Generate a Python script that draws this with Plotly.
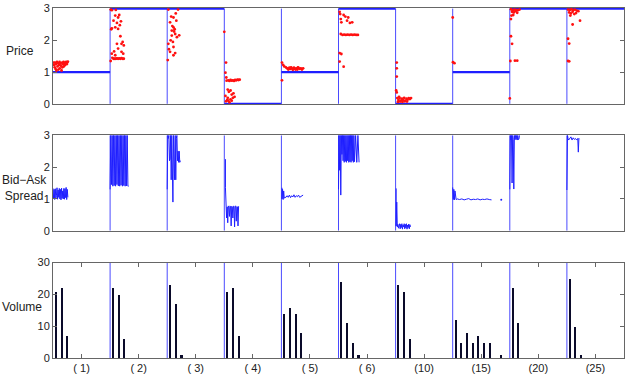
import plotly.graph_objects as go
from plotly.subplots import make_subplots

# ---------------- data ----------------
segment_labels = ["( 1)", "( 2)", "( 3)", "( 4)", "( 5)", "( 6)", "(10)", "(15)", "(20)", "(25)"]
price_levels = [1, 3, 3, 0, 1, 3, 0, 1, 3, 3]

# red price dots per segment: (time offset within segment, price)
dots_s1 = [(0.01,1.30),(0.02,1.22),(0.03,1.15),(0.035,1.30),(0.045,1.10),(0.05,1.25),(0.06,1.05),(0.07,1.32),(0.08,1.18),(0.09,1.28),
           (0.095,1.08),(0.105,1.22),(0.115,1.32),(0.12,1.12),(0.13,1.27),(0.14,1.20),(0.15,1.05),(0.16,1.30),(0.165,1.15),(0.175,1.25),
           (0.185,1.32),(0.19,1.18),(0.2,1.28),(0.21,1.22),(0.22,1.30),(0.23,1.32),(0.24,1.25),(0.25,1.30),(0.26,1.33)]
dots_s2 = [(0.01,2.97),(0.03,2.95),(0.10,2.96),(0.09,2.78),(0.14,2.72),(0.06,2.62),(0.12,2.55),(0.17,2.48),(0.09,2.41),(0.14,2.36),
           (0.03,2.38),(0.19,2.60),(0.18,2.13),(0.12,1.89),(0.20,1.89),(0.24,1.84),(0.14,1.74),(0.20,1.64),(0.03,1.58),(0.09,1.53),
           (0.23,1.58),(0.04,1.45),(0.06,1.42),(0.08,1.42),(0.10,1.42),(0.12,1.43),(0.14,1.42),(0.16,1.43),(0.18,1.42),(0.20,1.44),
           (0.22,1.42),(0.24,1.42),(0.01,1.35),(0.02,2.35),(0.16,2.80),(0.07,1.65),(0.22,1.95)]
dots_s3 = [(0.02,2.97),(0.19,2.97),(0.07,2.75),(0.11,2.72),(0.05,2.57),(0.11,2.41),(0.08,2.31),(0.14,2.20),(0.21,2.16),(0.02,1.89),
           (0.11,1.79),(0.05,1.64),(0.14,1.60),(0.01,1.38),(0.11,1.53),(0.17,2.10),(0.08,2.15),(0.09,2.45),(0.13,2.35),(0.06,2.00),
           (0.12,2.28),(0.16,2.62),(0.03,1.72),(0.10,1.95),(0.15,2.85)]
dots_s4 = [(0.00,2.27),(0.03,1.30),(0.02,0.98),(0.035,0.83),(0.04,0.73),(0.07,0.74),(0.09,0.72),(0.11,0.75),(0.13,0.73),(0.15,0.74),
           (0.17,0.72),(0.19,0.75),(0.21,0.74),(0.23,0.76),(0.25,0.75),(0.27,0.76),(0.06,0.45),(0.11,0.42),(0.08,0.38),(0.13,0.29),
           (0.16,0.33),(0.06,0.19),(0.11,0.14),(0.15,0.19),(0.03,0.08),(0.07,0.10),(0.13,0.10),(0.02,0.25),(0.05,0.12),(0.09,0.05),(0.18,0.22)]
dots_s5 = [(0.01,1.30),(0.01,0.74),(0.03,1.23),(0.05,1.18),(0.1,1.12),(0.12,1.08),(0.14,1.14),(0.16,1.10),(0.18,1.12),(0.2,1.07),
           (0.22,1.14),(0.24,1.10),(0.26,1.12),(0.28,1.08),(0.3,1.13),(0.32,1.10),(0.34,1.12),(0.36,1.08),(0.38,1.12),(0.13,1.10),
           (0.17,1.15),(0.21,1.10),(0.25,1.08),(0.29,1.15),(0.08,1.15)]
dots_s6 = [(0.02,2.90),(0.03,2.83),(0.09,2.80),(0.17,2.72),(0.04,2.67),(0.15,2.62),(0.24,2.57),(0.05,2.57),(0.20,2.55),(0.12,2.75),
           (0.04,2.20),(0.07,2.17),(0.10,2.18),(0.13,2.17),(0.16,2.18),(0.19,2.17),(0.22,2.18),(0.25,2.17),(0.28,2.18),(0.31,2.17),
           (0.34,2.17),(0.02,1.60),(0.05,1.57),(0.02,1.33),(0.09,1.17)]
dots_s7 = [(0.02,1.30),(0.02,1.12),(0.02,0.86),(0.01,0.42),(0.02,0.36),(0.03,0.18),(0.05,0.12),(0.07,0.18),(0.09,0.10),(0.11,0.16),
           (0.13,0.12),(0.15,0.19),(0.17,0.10),(0.19,0.16),(0.21,0.13),(0.23,0.18),(0.25,0.15),(0.27,0.18),(0.04,0.06),(0.08,0.07),
           (0.12,0.06),(0.16,0.08),(0.20,0.07),(0.06,0.22)]
dots_s8 = [(0.00,2.72),(0.005,1.31),(0.03,1.28)]
dots_s9 = [(0.02,2.98),(0.05,2.95),(0.08,2.97),(0.11,2.96),(0.14,2.95),(0.17,2.97),(0.04,2.90),(0.07,2.88),(0.10,2.92),(0.13,2.87),
           (0.06,2.80),(0.03,2.78),(0.02,2.67),(0.02,2.13),(0.04,1.89),(0.01,1.35),(0.09,1.36),(0.13,1.36),(0.00,0.17)]
dots_s10 = [(0.02,2.97),(0.05,2.96),(0.08,2.98),(0.11,2.95),(0.14,2.97),(0.17,2.94),(0.20,2.92),(0.04,2.88),(0.07,2.85),(0.10,2.90),
            (0.13,2.83),(0.16,2.86),(0.06,2.78),(0.10,2.50),(0.23,2.62),(0.02,2.05),(0.04,1.90),(0.02,1.35),(0.04,1.34)]
price_dots = [dots_s1, dots_s2, dots_s3, dots_s4, dots_s5, dots_s6, dots_s7, dots_s8, dots_s9, dots_s10]

# bid-ask spread series per segment: time offsets and values
sp1_t = [0.00,0.01,0.02,0.03,0.04,0.05,0.06,0.07,0.08,0.09,0.10,0.11,0.12,0.13,0.14,0.15,0.16,0.17,0.18,0.19,0.20,0.21,0.22,0.23,0.24,0.25,0.26]
sp1_y = [1.33,1.00,1.30,0.98,1.32,1.02,1.10,1.35,0.99,1.28,1.05,1.33,1.00,1.30,0.97,1.34,1.02,1.25,1.00,1.33,0.99,1.32,1.04,1.36,0.98,1.30,1.05]
sp2_t = [0.000,0.012,0.024,0.036,0.048,0.060,0.072,0.084,0.096,0.108,0.120,0.132,0.144,0.156,0.168,0.180,0.192,0.204,0.216,0.228,0.240,0.252,0.264,0.276,0.288,0.300,0.312,0.324]
sp2_y = [1.30,3.00,1.45,3.00,1.40,3.00,1.42,3.00,1.40,3.00,1.45,3.00,1.41,3.00,1.40,3.00,1.43,3.00,1.40,3.00,1.42,3.00,1.40,3.00,1.41,3.00,1.40,1.40]
sp3_t = [0.00,0.01,0.02,0.03,0.04,0.05,0.06,0.07,0.08,0.09,0.10,0.11,0.12,0.13,0.14,0.15,0.16,0.17,0.18,0.19,0.20,0.21,0.22,0.23]
sp3_y = [1.30,3.00,2.90,3.00,2.20,2.25,3.00,1.60,3.00,2.20,0.90,3.00,2.15,1.60,3.00,1.60,2.90,3.00,2.20,2.50,2.15,2.50,2.15,2.20]
sp4_t = [0.02,0.02,0.04,0.05,0.06,0.07,0.08,0.09,0.10,0.11,0.12,0.13,0.14,0.15,0.16,0.17,0.18,0.19,0.20,0.21,0.22,0.23,0.24,0.25]
sp4_y = [2.25,1.35,0.40,0.75,0.25,0.78,0.75,0.45,0.78,0.76,0.15,0.77,0.75,0.40,0.77,0.76,0.12,0.78,0.77,0.30,0.76,0.75,0.15,0.77]
sp5_t = [0.01,0.01,0.02,0.03,0.04,0.05,0.06,0.08,0.10,0.12,0.14,0.16,0.18,0.20,0.22,0.24,0.26,0.28,0.30,0.32,0.34,0.36,0.38]
sp5_y = [1.35,1.00,1.30,0.98,1.25,1.02,1.05,1.05,1.10,1.05,1.12,1.04,1.10,1.06,1.13,1.05,1.10,1.07,1.12,1.05,1.08,1.10,1.12]
sp6_t = [0.00,0.01,0.02,0.03,0.04,0.05,0.06,0.07,0.08,0.09,0.10,0.11,0.12,0.13,0.14,0.15,0.16,0.17,0.18,0.19,0.20,0.21,0.22,0.23,0.24,0.25,0.26,0.27,0.28,0.30,0.32,0.34,0.36]
sp6_y = [1.30,3.00,1.90,3.00,1.12,3.00,2.40,3.00,2.20,3.00,2.15,3.00,2.18,3.00,2.15,3.00,2.20,3.00,2.15,3.00,2.17,3.00,2.15,3.00,2.20,3.00,2.15,3.00,2.17,3.00,2.15,3.00,2.15]
sp7_t = [0.01,0.01,0.02,0.03,0.04,0.05,0.06,0.07,0.08,0.09,0.10,0.11,0.12,0.13,0.14,0.15,0.16,0.17,0.18,0.19,0.20,0.21,0.22,0.23,0.24,0.25,0.26]
sp7_y = [1.33,0.15,0.90,0.12,0.20,0.08,0.18,0.22,0.06,0.20,0.10,0.22,0.05,0.18,0.12,0.22,0.06,0.20,0.09,0.22,0.05,0.18,0.10,0.21,0.06,0.19,0.12]
sp8_t = [0.00,0.01,0.02,0.03,0.04,0.05,0.06,0.08,0.12,0.16,0.20,0.24,0.28,0.32,0.36,0.40,0.44,0.48,0.52,0.56,0.60,0.64,0.68]
sp8_y = [1.36,0.98,1.30,0.97,1.25,0.99,0.98,1.00,0.98,1.00,0.97,0.99,1.01,0.97,0.99,0.98,1.00,0.97,0.99,0.98,1.00,0.98,0.97]
sp9_t = [0.00,0.01,0.02,0.03,0.04,0.05,0.06,0.07,0.08,0.09,0.10,0.11,0.12,0.13,0.14,0.15,0.16,0.17]
sp9_y = [1.30,3.00,2.85,3.00,1.50,3.00,2.87,1.31,3.00,2.86,3.00,2.87,3.00,2.85,3.00,2.86,2.88,3.00]
sp10_t = [0.00,0.01,0.02,0.03,0.05,0.07,0.09,0.11,0.13,0.15,0.17,0.19,0.20,0.21,0.22]
sp10_y = [1.28,3.00,2.90,2.85,2.90,2.95,2.85,2.92,2.87,2.90,2.85,2.90,2.47,2.90,2.88]
spread_t = [sp1_t, sp2_t, sp3_t, sp4_t, sp5_t, sp6_t, sp7_t, sp8_t, sp9_t, sp10_t]
spread_y = [sp1_y, sp2_y, sp3_y, sp4_y, sp5_y, sp6_y, sp7_y, sp8_y, sp9_y, sp10_y]
spread_extra_t = [(7, 0.85)]
spread_extra_y = [0.97]

# volume per segment, 10 bins per segment
volume = [
    [21, 22, 7, 0, 0, 0, 0, 0, 0, 0],
    [22, 20, 6, 0, 0, 0, 0, 0, 0, 0],
    [23, 17, 1, 0, 0, 0, 0, 0, 0, 0],
    [21, 22, 7, 0, 0, 0, 0, 0, 0, 0],
    [14, 16, 14, 8, 0, 0, 0, 0, 0, 0],
    [24, 11, 5, 1, 0, 0, 0, 0, 0, 0],
    [23, 21, 6, 0, 0, 0, 0, 0, 0, 0],
    [12, 5, 8, 5, 7, 5, 5, 0, 1, 0],
    [22, 11, 0, 0, 0, 0, 0, 0, 0, 0],
    [25, 10, 1, 0, 0, 0, 0, 0, 0, 0],
]

# ---------------- figure ----------------
BLUE = "#1f1fff"
SEP = "#4a4aff"
RED = "#ff1010"
NAVY = "#0a0a2a"

fig = make_subplots(rows=3, cols=1, shared_xaxes=False, vertical_spacing=0.0)
nseg = len(segment_labels)

# separators (segment boundaries)
def separators(ymax):
    xs, ys = [], []
    for b in range(1, nseg):
        xs += [b, b, None]
        ys += [0, ymax, None]
    return xs, ys

for row, ymax in [(1, 3), (2, 3), (3, 30)]:
    sx, sy = separators(ymax)
    fig.add_trace(go.Scatter(x=sx, y=sy, mode="lines", line=dict(color=SEP, width=1),
                             hoverinfo="skip", showlegend=False), row=row, col=1)

# price step level
px_, py_ = [], []
for i, lv in enumerate(price_levels):
    px_ += [i, i + 1, None]
    py_ += [lv, lv, None]
fig.add_trace(go.Scatter(x=px_, y=py_, mode="lines", line=dict(color=BLUE, width=2.2),
                         showlegend=False), row=1, col=1)

# red dots
dx, dy = [], []
for i, seg in enumerate(price_dots):
    for t, v in seg:
        dx.append(i + t)
        dy.append(v)
fig.add_trace(go.Scatter(x=dx, y=dy, mode="markers",
                         marker=dict(color=RED, size=2.8, line=dict(width=0)),
                         showlegend=False, cliponaxis=False), row=1, col=1)

# spread
sx_, sy_ = [], []
for i in range(nseg):
    sx_ += [i + t for t in spread_t[i]] + [None]
    sy_ += list(spread_y[i]) + [None]
fig.add_trace(go.Scatter(x=sx_, y=sy_, mode="lines", line=dict(color=BLUE, width=1),
                         showlegend=False), row=2, col=1)
fig.add_trace(go.Scatter(x=[s + t for s, t in spread_extra_t], y=spread_extra_y, mode="markers",
                         marker=dict(color=BLUE, size=2), showlegend=False), row=2, col=1)

# volume bars
vx, vy = [], []
for i, seg in enumerate(volume):
    for k, v in enumerate(seg):
        if v > 0:
            vx.append(i + 0.05 + 0.1 * k)
            vy.append(v)
fig.add_trace(go.Bar(x=vx, y=vy, width=0.036, marker=dict(color=NAVY, line=dict(width=0)),
                     showlegend=False), row=3, col=1)

H = 352.0
doms = {1: [(358 - 103) / H, 1.0], 2: [(358 - 230) / H, (358 - 134) / H], 3: [0.0, 96 / H]}
axis_common = dict(showline=True, linecolor="#666666", linewidth=1, mirror="ticks",
                   showgrid=False, zeroline=False, ticks="inside", ticklen=4,
                   tickcolor="#666666", tickfont=dict(family="Liberation Sans", size=11, color="#222222"))

for r in (1, 2, 3):
    fig.update_xaxes(range=[0, nseg], row=r, col=1, **axis_common)
    fig.update_yaxes(domain=doms[r], row=r, col=1, **axis_common)

fig.update_xaxes(showticklabels=False, ticks="", row=1, col=1)
fig.update_xaxes(showticklabels=False, ticks="", row=2, col=1)
fig.update_xaxes(tickmode="array", tickvals=[i + 0.5 for i in range(nseg)],
                 ticktext=segment_labels, row=3, col=1)
fig.update_yaxes(range=[-0.02, 3.02], tickvals=[0, 1, 2, 3], row=1, col=1)
fig.update_yaxes(range=[0, 3], tickvals=[0, 1, 2, 3], row=2, col=1)
fig.update_yaxes(range=[0, 30], tickvals=[0, 10, 20, 30], row=3, col=1)

lab_font = dict(family="Liberation Sans", size=12, color="#222222")
fig.add_annotation(text="Price", xref="paper", yref="y domain", x=0, y=0.55, xanchor="center",
                   yanchor="middle", xshift=-33, showarrow=False, font=lab_font)
fig.add_annotation(text="Bid−Ask<br>Spread", xref="paper", yref="y2 domain", x=0, y=0.45, xanchor="center",
                   yanchor="middle", xshift=-29, showarrow=False, font=lab_font, align="center")
fig.add_annotation(text="Volume", xref="paper", yref="y3 domain", x=0, y=0.53, xanchor="center",
                   yanchor="middle", xshift=-31, showarrow=False, font=lab_font)

fig.update_layout(width=627, height=376, margin=dict(l=53, r=2, t=6, b=18),
                  plot_bgcolor="white", paper_bgcolor="white", bargap=0)

fig.write_html("out.html")
